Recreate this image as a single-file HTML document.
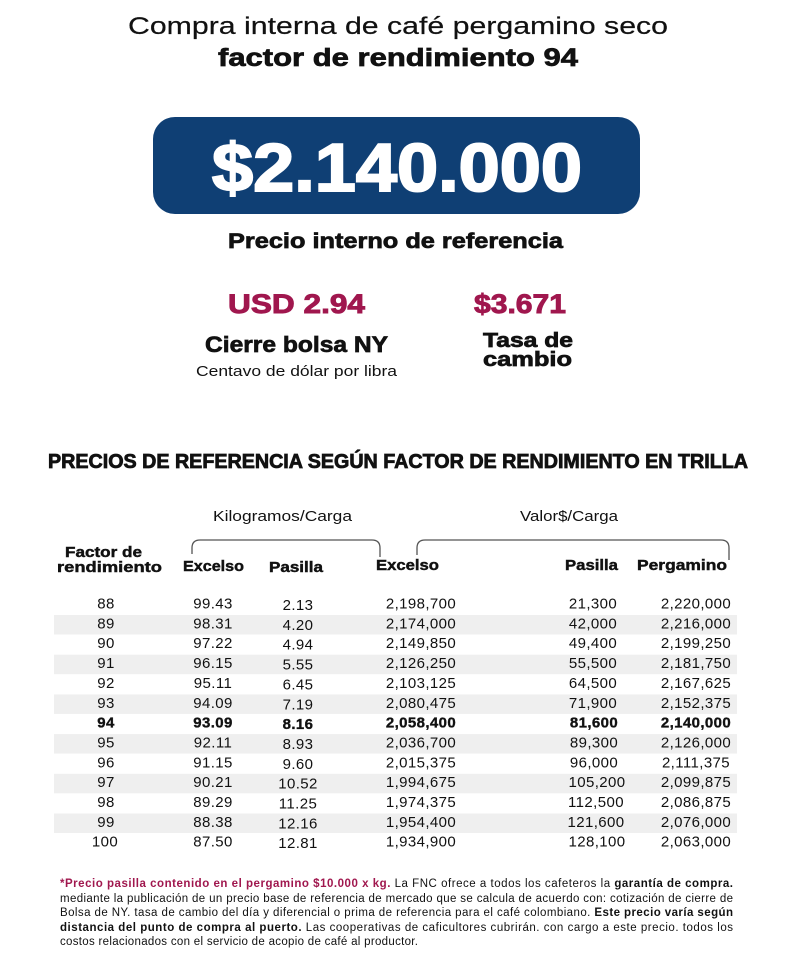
<!DOCTYPE html>
<html>
<head>
<meta charset="utf-8">
<style>
  html,body{margin:0;padding:0;background:#fff;}
  svg{display:block;}
  text{font-family:"Liberation Sans",Arial,sans-serif;fill:#111;}
  .b{font-weight:bold;}
  .num{font-size:15px;letter-spacing:0.4px;}
  .hd{font-size:15px;font-weight:bold;stroke:#111;stroke-width:0.45;}
  .fn{font-size:11.5px;}
  .red{fill:#a0174e;}
  .hv{stroke:#111;stroke-width:0.7;}
  .hvr{stroke:#a0174e;stroke-width:0.9;}
</style>
</head>
<body>
<svg width="800" height="968" viewBox="0 0 800 968" xmlns="http://www.w3.org/2000/svg">
  <rect width="800" height="968" fill="#fff"/>

  <!-- Title -->
  <text x="128" y="34" font-size="24" textLength="540" lengthAdjust="spacingAndGlyphs" style="stroke:#111;stroke-width:0.2">Compra interna de café pergamino seco</text>
  <text x="218" y="66" font-size="25" class="b hv" textLength="360" lengthAdjust="spacingAndGlyphs">factor de rendimiento 94</text>

  <!-- Blue price box -->
  <rect x="153" y="117" width="487" height="97" rx="22" ry="22" fill="#0f3f74"/>
  <text x="212" y="191" font-size="68" class="b" style="fill:#fff;stroke:#fff;stroke-width:2" textLength="370" lengthAdjust="spacingAndGlyphs">$2.140.000</text>

  <text x="228" y="248" font-size="21" class="b hv" textLength="335" lengthAdjust="spacingAndGlyphs">Precio interno de referencia</text>

  <!-- USD / Tasa -->
  <text x="228" y="313" font-size="27" class="b red hvr" textLength="137" lengthAdjust="spacingAndGlyphs">USD 2.94</text>
  <text x="474" y="313" font-size="27" class="b red hvr" textLength="92" lengthAdjust="spacingAndGlyphs">$3.671</text>
  <text x="205" y="352" font-size="22" class="b hv" textLength="183" lengthAdjust="spacingAndGlyphs">Cierre bolsa NY</text>
  <text x="196" y="376" font-size="15" textLength="201" lengthAdjust="spacingAndGlyphs">Centavo de dólar por libra</text>
  <text x="483" y="347" font-size="20" class="b hv" textLength="90" lengthAdjust="spacingAndGlyphs">Tasa de</text>
  <text x="483" y="366" font-size="20" class="b hv" textLength="89" lengthAdjust="spacingAndGlyphs">cambio</text>

  <!-- Section heading -->
  <text x="48" y="468" font-size="20" class="b" style="stroke:#111;stroke-width:0.8" textLength="700" lengthAdjust="spacingAndGlyphs">PRECIOS DE REFERENCIA SEGÚN FACTOR DE RENDIMIENTO EN TRILLA</text>

  <!-- Group headers -->
  <text x="213" y="521" font-size="15" textLength="139" lengthAdjust="spacingAndGlyphs">Kilogramos/Carga</text>
  <text x="520" y="521" font-size="15" textLength="98" lengthAdjust="spacingAndGlyphs">Valor$/Carga</text>

  <!-- Braces -->
  <path d="M192,554 L192,548 Q192,540 200,540 L372,540 Q380,540 380,548 L380,557" fill="none" stroke="#555" stroke-width="1.3"/>
  <path d="M417,555 L417,548 Q417,540 425,540 L721,540 Q729,540 729,548 L729,560" fill="none" stroke="#555" stroke-width="1.3"/>

  <!-- Column headers -->
  <text x="65" y="557" class="hd" textLength="77" lengthAdjust="spacingAndGlyphs">Factor de</text>
  <text x="57" y="572" class="hd" textLength="105" lengthAdjust="spacingAndGlyphs">rendimiento</text>
  <text x="183" y="571" class="hd" textLength="61" lengthAdjust="spacingAndGlyphs">Excelso</text>
  <text x="269" y="572" class="hd" textLength="54" lengthAdjust="spacingAndGlyphs">Pasilla</text>
  <text x="376" y="570" class="hd" textLength="63" lengthAdjust="spacingAndGlyphs">Excelso</text>
  <text x="565" y="570" class="hd" textLength="53" lengthAdjust="spacingAndGlyphs">Pasilla</text>
  <text x="637" y="570" class="hd" textLength="90" lengthAdjust="spacingAndGlyphs">Pergamino</text>

  <!-- Stripes -->
  <g fill="#efefef">
    <rect x="54" y="615.0" width="683" height="19.5"/>
    <rect x="54" y="654.7" width="683" height="19.5"/>
    <rect x="54" y="694.4" width="683" height="19.5"/>
    <rect x="54" y="734.1" width="683" height="19.5"/>
    <rect x="54" y="773.8" width="683" height="19.5"/>
    <rect x="54" y="813.5" width="683" height="19.5"/>
  </g>

  <!-- Data rows -->
  <g class="num" text-anchor="middle">
    <text x="106" y="608.5">88</text><text x="213" y="608.5">99.43</text><text x="298" y="610">2.13</text><text x="421" y="608.5">2,198,700</text><text x="593" y="608.5">21,300</text><text x="696" y="608.5">2,220,000</text>
    <text x="106" y="628.4">89</text><text x="213" y="628.4">98.31</text><text x="298" y="629.9">4.20</text><text x="421" y="628.4">2,174,000</text><text x="593" y="628.4">42,000</text><text x="696" y="628.4">2,216,000</text>
    <text x="106" y="648.2">90</text><text x="213" y="648.2">97.22</text><text x="298" y="649.7">4.94</text><text x="421" y="648.2">2,149,850</text><text x="593" y="648.2">49,400</text><text x="696" y="648.2">2,199,250</text>
    <text x="106" y="668.1">91</text><text x="213" y="668.1">96.15</text><text x="298" y="669.6">5.55</text><text x="421" y="668.1">2,126,250</text><text x="593" y="668.1">55,500</text><text x="696" y="668.1">2,181,750</text>
    <text x="106" y="687.9">92</text><text x="213" y="687.9">95.11</text><text x="298" y="689.4">6.45</text><text x="421" y="687.9">2,103,125</text><text x="593" y="687.9">64,500</text><text x="696" y="687.9">2,167,625</text>
    <text x="106" y="707.8">93</text><text x="213" y="707.8">94.09</text><text x="298" y="709.3">7.19</text><text x="421" y="707.8">2,080,475</text><text x="593" y="707.8">71,900</text><text x="696" y="707.8">2,152,375</text>
    <g class="b" style="stroke:#111;stroke-width:0.35">
    <text x="106" y="727.6">94</text><text x="213" y="727.6">93.09</text><text x="298" y="729.1">8.16</text><text x="421" y="727.6">2,058,400</text><text x="594" y="727.6">81,600</text><text x="696" y="727.6">2,140,000</text>
    </g>
    <text x="106" y="747.5">95</text><text x="213" y="747.5">92.11</text><text x="298" y="749">8.93</text><text x="421" y="747.5">2,036,700</text><text x="594" y="747.5">89,300</text><text x="696" y="747.5">2,126,000</text>
    <text x="106" y="767.3">96</text><text x="213" y="767.3">91.15</text><text x="298" y="768.8">9.60</text><text x="421" y="767.3">2,015,375</text><text x="594" y="767.3">96,000</text><text x="696" y="767.3">2,111,375</text>
    <text x="106" y="787.2">97</text><text x="213" y="787.2">90.21</text><text x="298" y="788.7">10.52</text><text x="421" y="787.2">1,994,675</text><text x="597" y="787.2">105,200</text><text x="696" y="787.2">2,099,875</text>
    <text x="106" y="807.0">98</text><text x="213" y="807.0">89.29</text><text x="298" y="808.5">11.25</text><text x="421" y="807.0">1,974,375</text><text x="596" y="807.0">112,500</text><text x="696" y="807.0">2,086,875</text>
    <text x="106" y="826.9">99</text><text x="213" y="826.9">88.38</text><text x="298" y="828.4">12.16</text><text x="421" y="826.9">1,954,400</text><text x="596" y="826.9">121,600</text><text x="696" y="826.9">2,076,000</text>
    <text x="105" y="846.7">100</text><text x="213" y="846.7">87.50</text><text x="298" y="848.2">12.81</text><text x="421" y="846.7">1,934,900</text><text x="597" y="846.7">128,100</text><text x="696" y="846.7">2,063,000</text>
  </g>

  <!-- Footnote -->
  <text x="60" y="887" class="fn" textLength="673"><tspan class="b red">*Precio pasilla contenido en el pergamino $10.000 x kg.</tspan> La FNC ofrece a todos los cafeteros la <tspan class="b">garantía de compra.</tspan></text>
  <text x="60" y="902" class="fn" textLength="673">mediante la publicación de un precio base de referencia de mercado que se calcula de acuerdo con: cotización de cierre de</text>
  <text x="60" y="916" class="fn" textLength="673">Bolsa de NY. tasa de cambio del día y diferencial o prima de referencia para el café colombiano. <tspan class="b">Este precio varía según</tspan></text>
  <text x="60" y="931" class="fn" textLength="673"><tspan class="b">distancia del punto de compra al puerto.</tspan> Las cooperativas de caficultores cubrirán. con cargo a este precio. todos los</text>
  <text x="60" y="945" class="fn" textLength="358">costos relacionados con el servicio de acopio de café al productor.</text>
</svg>
</body>
</html>
